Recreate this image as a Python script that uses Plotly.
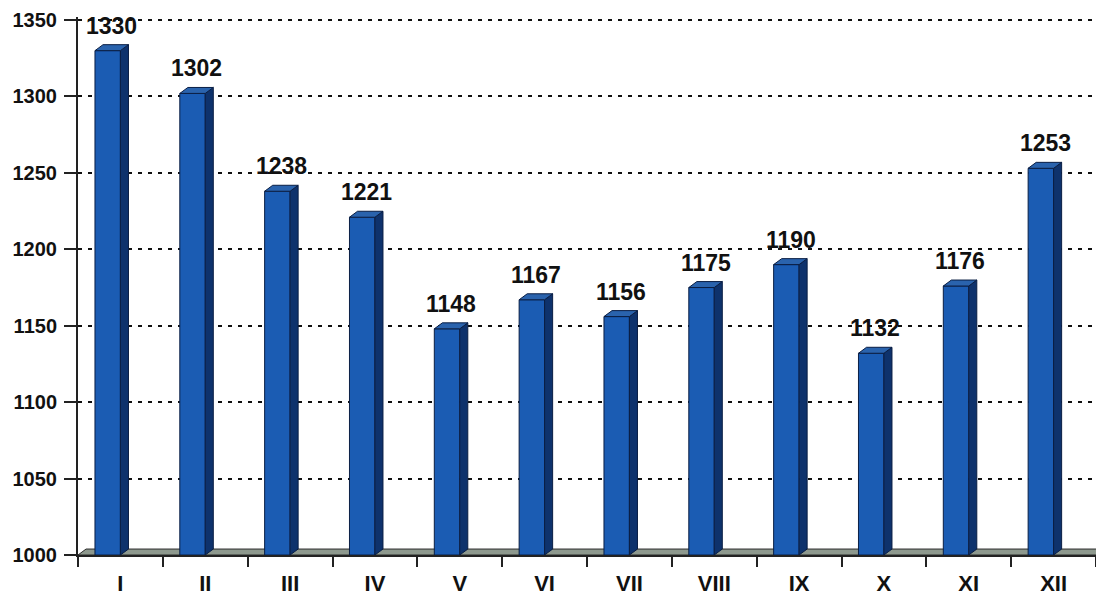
import plotly.graph_objects as go

months = ["I", "II", "III", "IV", "V", "VI", "VII", "VIII", "IX", "X", "XI", "XII"]
values = [1330, 1302, 1238, 1221, 1148, 1167, 1156, 1175, 1190, 1132, 1176, 1253]
y_ticks = [1000, 1050, 1100, 1150, 1200, 1250, 1300, 1350]

BASE = 1000
Y_MAX = 1352
FRONT_L, FRONT_R = -0.30, 0.0   # front face extent relative to category centre
DX, DY = 0.095, 3.9             # 3D depth offset (x in categories, y in value units)

front_x, front_y, side_x, side_y, top_x, top_y = [], [], [], [], [], []
for i, v in enumerate(values):
    l, r = i + FRONT_L, i + FRONT_R
    front_x += [l, r, r, l, l, None]
    front_y += [BASE, BASE, v, v, BASE, None]
    side_x += [r, r + DX, r + DX, r, r, None]
    side_y += [BASE, BASE + DY, v + DY, v, BASE, None]
    top_x += [l, r, r + DX, l + DX, l, None]
    top_y += [v, v, v + DY, v + DY, v, None]

n = len(months)
fig = go.Figure()
# floor
fig.add_trace(go.Scatter(
    x=[-0.5, n - 0.5 + DX, n - 0.5 + DX + DX, -0.5 + DX, -0.5],
    y=[BASE, BASE, BASE + DY, BASE + DY, BASE],
    fill="toself", mode="lines", fillcolor="#8e998e",
    line=dict(color="#2b2b2b", width=1), hoverinfo="skip", showlegend=False))
outline = dict(color="#0a1e44", width=1)
fig.add_trace(go.Scatter(x=front_x, y=front_y, fill="toself", mode="lines",
                         fillcolor="#1b5cb3", line=outline, showlegend=False, hoverinfo="skip"))
fig.add_trace(go.Scatter(x=side_x, y=side_y, fill="toself", mode="lines",
                         fillcolor="#0e326c", line=outline, showlegend=False, hoverinfo="skip"))
fig.add_trace(go.Scatter(x=top_x, y=top_y, fill="toself", mode="lines",
                         fillcolor="#2a63ad", line=outline, showlegend=False, hoverinfo="skip"))

for i, v in enumerate(values):
    fig.add_annotation(x=i - 0.1, y=v + DY, text=str(v), showarrow=False,
                       yanchor="bottom", yshift=4,
                       font=dict(family="Liberation Sans", size=23, color="#111", weight="bold"))

fig.update_layout(
    width=1096, height=595,
    margin=dict(l=78, r=0, t=17, b=40, autoexpand=False),
    paper_bgcolor="white", plot_bgcolor="white",
    showlegend=False,
    xaxis=dict(range=[-0.5, n - 0.5], tickmode="array", tickvals=list(range(n)),
               ticktext=months, ticks="outside", ticklen=0, showgrid=False, zeroline=False,
               showline=True, linecolor="#222", linewidth=1.5,
               ticklabelstandoff=8,
               tickfont=dict(family="Liberation Sans", size=22, color="#111", weight="bold"),
               minor=dict(tickmode="array", tickvals=[k - 0.5 for k in range(n + 1)],
                          ticks="outside", ticklen=10, tickwidth=2, tickcolor="#222",
                          showgrid=False)),
    yaxis=dict(range=[BASE, Y_MAX], tickmode="array", tickvals=y_ticks,
               ticks="outside", ticklen=12, tickwidth=2, tickcolor="#222",
               showline=True, linecolor="#222", linewidth=2,
               showgrid=True, gridcolor="#111", gridwidth=2, griddash="4px,6px",
               zeroline=False, ticklabelstandoff=3,
               tickfont=dict(family="Liberation Sans", size=20, color="#111", weight="bold")),
)

fig.write_html("out.html", config={"displayModeBar": False},
               post_script="document.body.style.margin='0';document.body.style.overflow='hidden';")
